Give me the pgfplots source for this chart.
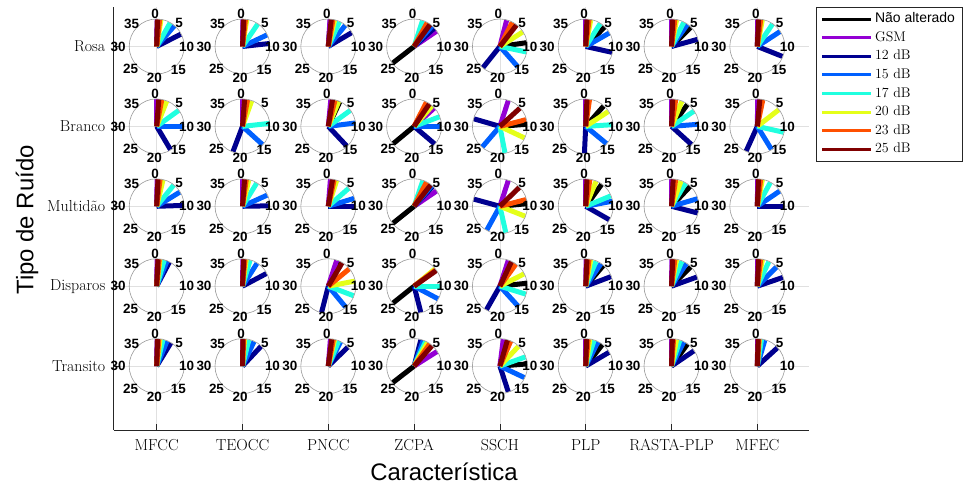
\documentclass[border=0pt]{standalone}
\usepackage{fontspec}
\usepackage{pgfplots}
\usepackage{pgfplotstable}
\pgfplotsset{compat=1.18}
\usetikzlibrary{calc}
\newfontfamily\helv{Liberation Sans}
\definecolor{cgsm}{rgb}{0.58,0,0.83}
\definecolor{c12}{rgb}{0,0,0.5625}
\definecolor{c15}{rgb}{0,0.375,1}
\definecolor{c17}{rgb}{0.125,1,0.875}
\definecolor{c20}{rgb}{0.9,1,0.1}
\definecolor{c23}{rgb}{1,0.3125,0}
\definecolor{c25}{rgb}{0.5,0,0}
\definecolor{axgray}{rgb}{0.15,0.15,0.15}

% c = feature (1 MFCC ... 8 MFEC), n = noise (1 Transito ... 5 Rosa)
% angle of each ray on the 0-40 scale: K = Nao alterado, G = GSM, A = 12 dB, B = 15 dB, C = 17 dB, D = 20 dB, E = 23 dB, F = 25 dB
\pgfplotstableread{
c n K G A B C D E F
1 5 0.2 0.1 7.0 4.5 3.3 1.0 0.7 0.2
2 5 0.2 0.1 9.3 7.2 3.8 1.0 0.7 0.3
3 5 0.5 0.4 6.6 4.3 2.7 1.5 1.1 0.7
4 5 25.8 6.2 5.3 4.6 2.0 3.6 3.2 4.0
5 5 9.1 1.6 24.3 15.4 11.3 6.4 3.0 4.2
6 5 4.9 0.0 11.4 6.7 3.6 1.2 0.8 0.3
7 5 5.0 0.0 8.3 4.0 3.0 1.2 0.8 0.3
8 5 0.3 0.1 12.4 6.3 3.8 1.2 0.8 0.3
1 4 0.5 0.0 16.6 10.0 6.0 2.4 1.2 0.5
2 4 0.5 0.0 22.3 14.7 9.3 2.2 1.2 0.5
3 4 2.8 0.6 15.2 9.2 6.0 2.5 1.6 1.0
4 4 25.6 5.3 14.5 10.0 7.7 4.6 3.0 3.8
5 4 9.5 2.0 31.8 24.5 18.8 12.8 8.4 5.3
6 4 4.6 0.0 20.3 14.4 9.6 6.3 0.9 0.3
7 4 4.0 0.0 14.7 9.5 6.2 2.5 1.0 0.3
8 4 0.6 0.1 22.7 16.5 11.4 5.8 1.3 0.6
1 3 0.3 0.1 9.8 6.5 4.3 1.5 0.8 0.3
2 3 0.5 0.0 9.9 7.3 3.5 1.5 0.9 0.5
3 3 1.0 0.5 10.0 8.1 5.4 2.0 1.4 1.0
4 3 25.7 6.2 4.8 4.5 2.1 3.6 3.0 4.2
5 3 9.4 2.0 31.7 23.2 18.6 12.4 8.4 5.1
6 3 4.0 0.0 13.3 8.8 7.5 2.5 1.0 0.3
7 3 4.8 0.0 11.6 8.2 3.5 2.3 1.0 0.4
8 3 0.3 0.1 10.0 6.2 3.2 1.2 0.8 0.3
1 2 0.3 0.1 3.1 2.5 1.8 0.8 0.6 0.3
2 2 0.3 0.1 6.9 3.6 1.8 0.9 0.6 0.3
3 2 2.8 2.0 21.6 15.6 12.3 8.8 5.6 3.4
4 2 25.7 5.8 18.4 13.1 10.0 5.6 5.9 6.1
5 2 9.3 2.0 23.3 15.3 11.9 7.0 4.0 2.8
6 2 4.5 0.1 7.7 3.8 2.5 1.2 0.8 0.3
7 2 5.0 0.1 7.8 3.7 2.5 1.2 0.8 0.3
8 2 0.3 0.1 7.9 5.0 2.8 1.2 0.8 0.3
1 1 0.2 0.1 3.5 2.5 1.5 0.8 0.5 0.2
2 1 0.2 0.1 4.8 2.8 1.5 0.5 0.3 0.1
3 1 0.8 0.5 5.1 3.0 2.5 1.5 1.2 0.8
4 1 25.8 6.4 1.6 2.2 2.8 3.3 3.9 4.6
5 1 9.5 0.8 18.0 12.8 7.8 4.8 2.6 1.8
6 1 4.2 0.0 6.6 3.0 2.0 1.0 0.6 0.2
7 1 4.0 0.0 6.2 3.0 2.0 1.2 0.5 0.2
8 1 0.6 0.1 5.3 1.8 1.0 0.5 0.4 0.2
}\rays

\newcommand{\ray}[2]{%
  \addplot[draw=#1, line width=5bp, line cap=butt, forget plot,
    quiver={u={0.3147*sin(9*\thisrow{#2})}, v={0.3379*cos(9*\thisrow{#2})}}]
    table[x=c, y=n] {\rays};}

\begin{document}
\begin{tikzpicture}
\begin{axis}[
  name=ax, at={(0,0)}, anchor=south west,
  x=85.8bp, y=79.9bp,
  xmin=0.5, xmax=8.6, ymin=0.2, ymax=5.5,
  axis x line*=bottom, axis y line*=left,
  axis line style={axgray, line width=0.8bp, -},
  xtick={1,...,8},
  xticklabels={MFCC,TEOCC,PNCC,ZCPA,SSCH,PLP,RASTA-PLP,MFEC},
  ytick={1,...,5},
  yticklabels={Transito,Disparos,Multidão,Branco,Rosa},
  tick align=inside, major tick length=6bp,
  tick style={axgray, line width=0.8bp},
  ticklabel style={font=\fontsize{16}{19}\selectfont},
  xticklabel style={yshift=-6bp},
  yticklabel style={xshift=-5bp},
  grid=major, grid style={black!12, line width=0.8bp},
  clip=false,
  legend image code/.code={\draw[line width=3bp,#1] (0bp,0bp) -- (49bp,0bp);},
  legend style={at={(1,1)}, anchor=north west, xshift=7bp,
    draw=axgray, line width=0.6bp, font=\fontsize{14}{16}\selectfont,
    inner xsep=4.6bp, inner ysep=3bp, row sep=0bp,
    nodes={inner sep=2.4bp, text height=10.5bp, text depth=3.3bp},
    /tikz/every even column/.append style={column sep=0bp}},
  legend cell align=left,
]
\coordinate (O) at (axis cs:0,0);
\addplot[only marks, mark=o, mark size=27.5bp, forget plot,
  mark options={draw=black!40, line width=0.6bp}] coordinates {
  (1,1) (2,1) (3,1) (4,1) (5,1) (6,1) (7,1) (8,1)
  (1,2) (2,2) (3,2) (4,2) (5,2) (6,2) (7,2) (8,2)
  (1,3) (2,3) (3,3) (4,3) (5,3) (6,3) (7,3) (8,3)
  (1,4) (2,4) (3,4) (4,4) (5,4) (6,4) (7,4) (8,4)
  (1,5) (2,5) (3,5) (4,5) (5,5) (6,5) (7,5) (8,5)};
\ray{black}{K}
\ray{cgsm}{G}
\ray{c12}{A}
\ray{c15}{B}
\ray{c17}{C}
\ray{c20}{D}
\ray{c23}{E}
\ray{c25}{F}
\addlegendimage{black, line width=4bp}
\addlegendentry{{\helv Não alterado}}
\addlegendimage{cgsm}
\addlegendentry{GSM}
\addlegendimage{c12}
\addlegendentry{12 dB}
\addlegendimage{c15}
\addlegendentry{15 dB}
\addlegendimage{c17}
\addlegendentry{17 dB}
\addlegendimage{c20}
\addlegendentry{20 dB}
\addlegendimage{c23}
\addlegendentry{23 dB}
\addlegendimage{c25}
\addlegendentry{25 dB}
\end{axis}
\foreach \c in {1,...,8}{
  \foreach \n in {1,...,5}{
    \foreach \t/\dx/\dy in {0/-1.5/32.5, 5/22.3/23.3, 10/30/0, 15/21.7/-23.3, 20/-2.3/-31, 25/-26/-22.7, 30/-38.5/0, 35/-25/22.3}{
      \node[font={\helv\bfseries\fontsize{13.5}{14}\selectfont}, inner sep=0pt]
        at ($(O)+({(\c*85.8+\dx)*1bp},{(\n*79.9+\dy)*1bp})$) {\t};
    }}}
\node[font={\helv\fontsize{24}{28}\selectfont}] at (330.2bp,-42bp) {Característica};
\node[font={\helv\fontsize{24}{28}\selectfont}, rotate=90] at (-86.8bp,210bp) {Tipo de Ruído};
\pgfresetboundingbox
\path[use as bounding box] (-113.8bp,-56bp) rectangle (851.2bp,430bp);
\end{tikzpicture}
\end{document}
